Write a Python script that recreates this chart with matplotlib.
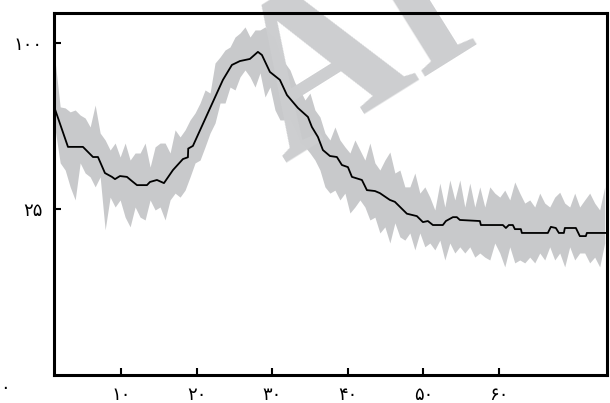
import numpy as np
import matplotlib
matplotlib.use('Agg')
from matplotlib import pyplot as plt

# band (min/max envelope) sampled along x
band_x = np.linspace(1.3, 74.0, 111)
band_hi = [88.9, 65.2, 64.7, 62.8, 63.7, 61.3, 59.9, 55.8, 66.1, 53.1,
           50.1, 45.9, 48.8, 43.1, 48.8, 41.9, 44.7, 44.7, 48.8, 39.2,
           47.2, 48.8, 48.8, 44.7, 54.5, 51.4, 54.5, 59.0, 62.3, 67.1,
           73.7, 72.1, 88.3, 91.7, 95.8, 97.6, 103.6, 106.1, 109.9, 103.6,
           108.0, 108.0, 109.9, 106.1, 103.6, 94.1, 88.3, 84.4, 77.4, 73.7,
           68.6, 72.1, 63.7, 60.4, 53.1, 50.1, 55.8, 50.1, 47.2, 44.7,
           50.1, 45.9, 41.9, 48.8, 40.8, 38.1, 41.9, 45.1, 37.0, 38.1,
           32.1, 32.1, 37.0, 30.0, 32.1, 28.7, 24.7, 33.4, 25.6, 34.5,
           27.8, 34.5, 25.6, 33.4, 25.6, 32.1, 25.6, 32.1, 30.0, 28.7,
           31.0, 27.8, 33.8, 30.0, 26.8, 27.8, 25.6, 30.0, 26.8, 25.6,
           28.7, 30.3, 26.8, 25.6, 30.0, 25.6, 27.8, 30.0, 26.8, 24.7, 32.1]
band_lo = [54.5, 40.8, 38.1, 32.1, 27.8, 40.8, 37.0, 35.6, 32.1, 35.6,
           19.1, 28.7, 25.6, 27.8, 22.6, 19.9, 25.6, 22.6, 21.8, 27.8,
           24.7, 25.6, 21.8, 27.8, 30.0, 28.7, 31.0, 35.6, 40.8, 41.9,
           47.2, 53.1, 57.6, 67.1, 67.1, 75.2, 73.7, 80.6, 84.4, 80.6,
           75.2, 82.8, 70.1, 75.2, 63.7, 59.0, 59.0, 59.0, 54.5, 48.8,
           47.2, 44.7, 41.9, 38.1, 32.1, 30.0, 31.0, 27.8, 30.0, 23.8,
           25.6, 27.8, 25.6, 21.8, 22.6, 18.3, 19.9, 15.8, 21.0, 17.3,
           16.5, 18.3, 14.2, 18.3, 14.9, 15.8, 14.2, 16.5, 12.0, 15.8,
           13.5, 14.9, 13.5, 14.9, 12.6, 13.5, 12.6, 12.0, 15.8, 13.5,
           10.6, 14.9, 11.4, 12.0, 11.4, 12.6, 11.4, 13.5, 12.0, 14.9,
           12.0, 13.5, 10.6, 14.9, 12.0, 13.5, 13.5, 11.4, 12.6, 10.6, 15.8]

# central (median) line
line_x = [1.14, 2.99, 4.97, 6.30, 6.96, 7.88, 8.81, 9.21, 9.87, 10.79,
          11.46, 12.12, 13.44, 13.84, 14.76, 15.69, 16.88, 18.20, 18.86, 18.90,
          19.52, 23.49, 24.68, 25.74, 27.06, 28.12, 28.65, 29.71, 31.03, 31.96,
          33.41, 34.74, 35.26, 36.06, 36.72, 37.65, 38.57, 39.23, 40.03, 40.56,
          41.88, 42.54, 43.60, 44.26, 45.58, 46.24, 47.83, 49.15, 49.95, 50.61,
          51.27, 52.59, 52.99, 53.92, 54.44, 54.84, 57.49, 57.62, 58.81, 60.53,
          60.93, 61.32, 61.85, 62.12, 62.91, 63.04, 66.48, 66.88, 67.54, 67.94,
          68.60, 68.73, 70.19, 70.71, 71.51, 71.64, 74.29]
line_y = [65.5, 47.2, 47.2, 43.1, 43.1, 37.0, 35.6, 34.8, 35.9, 35.6,
          34.1, 32.7, 32.7, 33.8, 34.5, 33.4, 38.1, 42.3, 43.0, 46.5,
          47.6, 79.0, 87.2, 89.4, 90.6, 94.7, 92.9, 83.3, 79.0, 71.1,
          64.7, 60.4, 55.8, 51.4, 45.9, 43.5, 43.1, 40.0, 39.2, 35.6,
          34.5, 31.0, 30.7, 30.0, 27.8, 27.2, 23.6, 22.9, 21.2, 21.5,
          20.4, 20.4, 21.5, 22.6, 22.6, 21.8, 21.5, 20.4, 20.4, 20.4,
          19.6, 20.4, 20.4, 19.3, 19.3, 18.3, 18.3, 19.9, 19.6, 18.3,
          18.3, 19.6, 19.6, 17.5, 17.5, 18.3, 18.3]

xticks = [10, 20, 30, 40, 50, 60]
xtick_labels = ['۱۰', '۲۰', '۳۰', '۴۰', '۵۰', '۶۰']
yticks = [25, 100]
ytick_labels = ['۲۵', '۱۰۰']

plt.rcParams['font.family'] = ['DejaVu Sans']

fig = plt.figure(figsize=(6.1, 4.03), dpi=100)
ax = fig.add_axes([0.0885, 0.0695, 0.9065, 0.898])

# square-root y axis
ax.set_yscale('function', functions=(lambda v: np.sqrt(np.clip(v, 0, None)),
                                     lambda v: np.square(v)))

ax.fill_between(band_x, band_lo, band_hi, color='#c8c9cb', linewidth=0, zorder=1)
ax.plot(line_x, line_y, color='black', linewidth=1.3, zorder=3)

# faint watermark, clipped to the figure
wm = ax.text(0.418, 0.586, 'Ar', transform=ax.transAxes, rotation=32,
             rotation_mode='anchor', ha='left', va='baseline', fontsize=160,
             family='Liberation Serif', fontweight='bold', color='#cdced0',
             zorder=2)
wm.set_clip_path(fig.patch)

ax.set_xlim(1.14, 74.3)
ax.set_ylim(0, 118.8)

ax.set_xticks(xticks)
ax.set_xticklabels(xtick_labels, fontsize=13)
ax.set_yticks(yticks)
ax.set_yticklabels(ytick_labels, fontsize=13)
ax.tick_params(direction='in', length=5, width=1.5, pad=8)
ax.text(-0.08, -0.035, '۰', transform=ax.transAxes, ha='right', va='center',
        fontsize=13)

for s in ax.spines.values():
    s.set_linewidth(2.2)

plt.savefig('out.png', dpi=100)
